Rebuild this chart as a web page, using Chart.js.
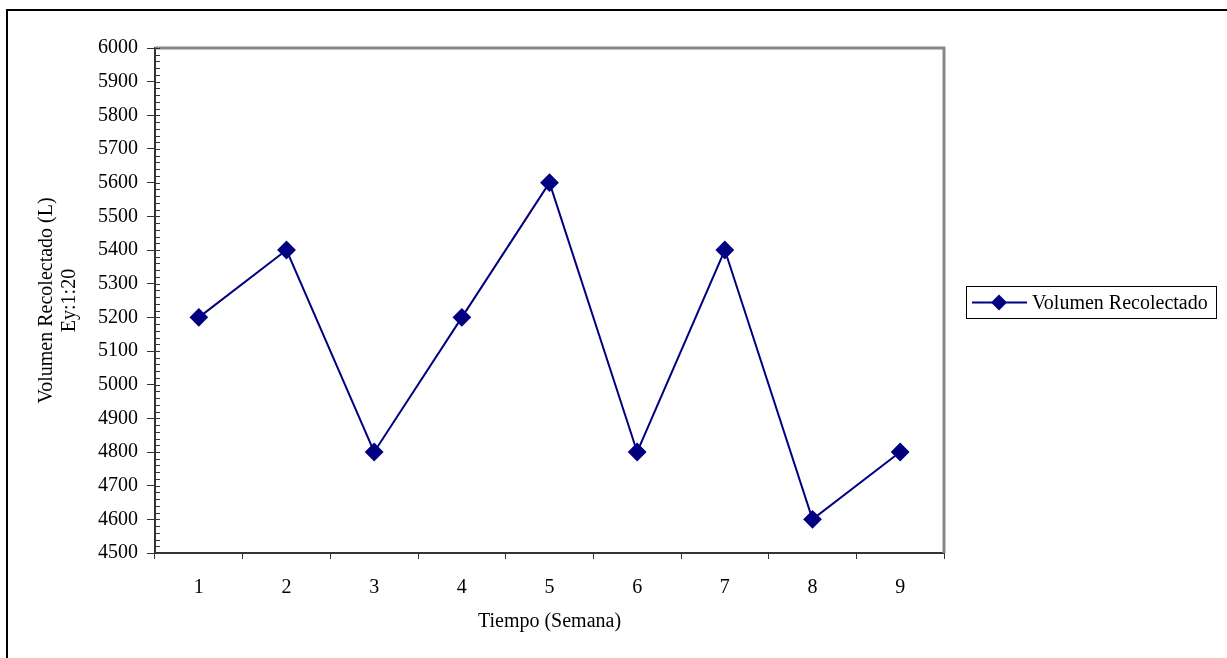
<!DOCTYPE html>
<html>
<head>
<meta charset="utf-8">
<script src="https://cdn.jsdelivr.net/npm/chart.js@4/dist/chart.umd.min.js"></script>
<style>
  html, body { margin: 0; padding: 0; background: #fff; }
  #wrap { width: 1227px; height: 658px; }
</style>
</head>
<body>
<div id="wrap"><canvas id="chart"></canvas></div>
<script>
const semanas = ['1', '2', '3', '4', '5', '6', '7', '8', '9'];
const volumen = [5200, 5400, 4800, 5200, 5600, 4800, 5400, 4600, 4800];
const serieNombre = 'Volumen Recolectado';
const yMin = 4500, yMax = 6000, yPaso = 100, yMenor = 20;

const serif = 'Liberation Serif, Times New Roman, serif';
const navy = '#000080';
const fs = 20;

// frame, plot border, minor ticks and the boxed legend
const extras = {
  id: 'extras',
  beforeDraw(chart) {
    const ctx = chart.ctx;
    ctx.save();
    ctx.strokeStyle = '#000';
    ctx.lineWidth = 2;
    ctx.strokeRect(7, 10, 1240, 700);
    ctx.restore();
  },
  afterDatasetsDraw(chart) {
    const {ctx, chartArea: a, scales: {y}} = chart;
    ctx.save();
    // gray top/right border of plot area
    ctx.strokeStyle = '#888';
    ctx.lineWidth = 3;
    ctx.beginPath();
    ctx.moveTo(a.left, a.top);
    ctx.lineTo(a.right, a.top);
    ctx.lineTo(a.right, a.bottom);
    ctx.stroke();
    // minor ticks inside the y axis
    ctx.strokeStyle = '#333';
    ctx.lineWidth = 1;
    ctx.beginPath();
    for (let v = yMin; v <= yMax; v += yMenor) {
      const py = Math.round(y.getPixelForValue(v)) + 0.5;
      ctx.moveTo(a.left, py);
      ctx.lineTo(a.left + 5, py);
    }
    ctx.stroke();

    // legend
    const bx = 966.5, by = 286.5, bw = 250, bh = 32;
    ctx.strokeStyle = '#000';
    ctx.lineWidth = 1;
    ctx.strokeRect(bx, by, bw, bh);
    const cy = by + bh / 2;
    ctx.strokeStyle = navy;
    ctx.lineWidth = 2;
    ctx.beginPath();
    ctx.moveTo(972, cy);
    ctx.lineTo(1027, cy);
    ctx.stroke();
    ctx.fillStyle = navy;
    ctx.beginPath();
    ctx.moveTo(999, cy - 8);
    ctx.lineTo(1007, cy);
    ctx.lineTo(999, cy + 8);
    ctx.lineTo(991, cy);
    ctx.closePath();
    ctx.fill();
    ctx.fillStyle = '#000';
    ctx.font = fs + 'px ' + serif;
    ctx.textBaseline = 'middle';
    ctx.fillText(chart.data.datasets[0].label, 1032, cy + 1);
    ctx.restore();
  }
};

new Chart(document.getElementById('chart'), {
  type: 'line',
  data: {
    labels: semanas,
    datasets: [{
      label: serieNombre,
      data: volumen,
      borderColor: navy,
      backgroundColor: navy,
      borderWidth: 2,
      pointStyle: 'rectRot',
      pointRadius: 8,
      pointHoverRadius: 8,
      tension: 0
    }]
  },
  options: {
    responsive: true,
    maintainAspectRatio: false,
    animation: false,
    layout: { padding: { top: 48, right: 283, left: 0, bottom: 0 } },
    plugins: {
      legend: { display: false },
      tooltip: { enabled: false }
    },
    scales: {
      x: {
        offset: true,
        grid: {
          offset: true,
          drawOnChartArea: false,
          drawTicks: true,
          tickLength: 6,
          color: '#333',
          lineWidth: 1
        },
        border: { color: '#333', width: 2 },
        ticks: {
          color: '#000',
          font: { family: serif, size: fs },
          padding: 17,
          maxRotation: 0
        },
        title: {
          display: true,
          text: 'Tiempo (Semana)',
          color: '#000',
          font: { family: serif, size: fs },
          padding: { top: 0, bottom: 24 }
        },
        afterFit(scale) { scale.height = 105; }
      },
      y: {
        min: yMin,
        max: yMax,
        grid: {
          drawOnChartArea: false,
          drawTicks: true,
          tickLength: 8,
          color: '#333',
          lineWidth: 1
        },
        border: { color: '#333', width: 2 },
        ticks: {
          stepSize: yPaso,
          color: '#000',
          font: { family: serif, size: fs },
          padding: 9,
          callback: (v) => String(v)
        },
        title: {
          display: true,
          text: ['Volumen Recolectado (L)', 'Ey:1:20'],
          color: '#000',
          font: { family: serif, size: fs, lineHeight: 1.15 },
          padding: { top: 35, bottom: 0 }
        },
        afterFit(scale) { scale.width = 155; }
      }
    }
  },
  plugins: [extras]
});
</script>
</body>
</html>
